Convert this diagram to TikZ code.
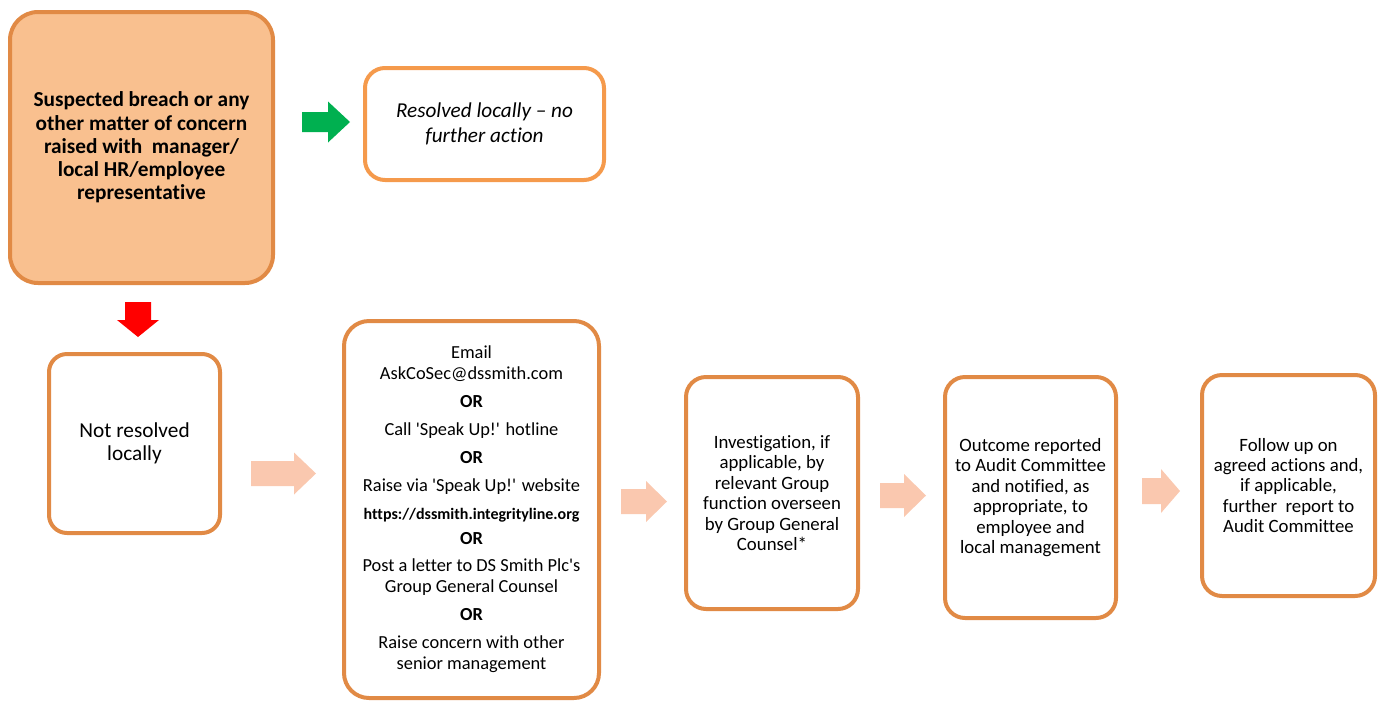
\documentclass[tikz,border=0pt]{standalone}
\usepackage{fontspec}
\setmainfont{Carlito}[Ligatures={TeX,NoCommon},Contextuals=NoAlternate]
\definecolor{bord}{HTML}{E18A45}
\definecolor{bordlight}{HTML}{F59A4C}
\definecolor{fillor}{HTML}{F9C08F}
\definecolor{pale}{HTML}{FAC8AF}
\definecolor{grn}{HTML}{00B050}
\definecolor{rd}{HTML}{FF0000}
\newcommand{\sq}{\textquotesingle}
\newcommand{\nl}{\kern0pt }
\tikzset{
  box/.style={draw=bord, line width=4pt, rounded corners=20pt, align=center, inner sep=0pt, text=black},
  pics/barrow/.style n args={5}{code={
    \fill[#5] (0,{-#2/2}) -- ({#1-#4},{-#2/2}) -- ({#1-#4},{-#3/2}) -- (#1,0)
      -- ({#1-#4},{#3/2}) -- ({#1-#4},{#2/2}) -- (0,{#2/2}) -- cycle;}}
}
\begin{document}
\begin{tikzpicture}[x=1pt,y=-1pt]
\useasboundingbox (0,0) rectangle (1383,702);
% boxes
\node[box, fill=fillor, rounded corners=28pt, minimum width=263pt, minimum height=271pt,
  font=\fontsize{21.3}{23.3}\selectfont\bfseries] (start) at (141.5,147.5)
  {Suspected breach or any\\other matter of concern\\raised with~ manager/\\local HR/employee\\representat\nl ive};
\node[box, draw=bordlight, minimum width=239pt, minimum height=112pt,
  font=\fontsize{21.2}{25}\selectfont\itshape] (res) at (484.5,124)
  {Resolved locally -- no\\further act\nl ion};
\node[box, minimum width=171pt, minimum height=179pt, rounded corners=18pt,
  font=\fontsize{21.3}{23}\selectfont] (nr) at (134.5,443.5)
  {Not resolved\\locally};
\node[box, minimum width=255pt, minimum height=377pt, rounded corners=25pt,
  font=\fontsize{18.4}{21}\selectfont] (em) at (471.5,509.5)
  {Email\\AskCoSec@dssmith.com\\[7pt]
   \textbf{OR}\\[7pt]
   Call \sq Speak Up!\sq{} hotline\\[7pt]
   \textbf{OR}\\[7pt]
   Raise via \sq Speak Up!\sq{} website\\[7pt]
   {\fontsize{16}{15}\selectfont\bfseries https://dssmith.integrityline.org}\\[4pt]
   \textbf{OR}\\[6pt]
   Post a letter to DS Smith Plc\sq s\\Group General Counsel\\[7pt]
   \textbf{OR}\\[7pt]
   Raise concern with other\\senior management};
\node[box, minimum width=172pt, minimum height=232pt,
  font=\fontsize{18.8}{20.4}\selectfont] (inv) at (772,493)
  {Investigat\nl ion, if\\applicable, by\\relevant Group\\funct\nl ion overseen\\by Group General\\Counsel*};
\node[box, minimum width=171pt, minimum height=241pt,
  font=\fontsize{18.8}{20.4}\selectfont] (out) at (1030.5,497.5)
  {Outcome reported\\to Audit Committee\\and notified, as\\appropriate, to\\employee and\\local management};
\node[box, minimum width=173pt, minimum height=221pt,
  font=\fontsize{18.8}{20.4}\selectfont] (fol) at (1288.5,485.5)
  {Follow up on\\agreed act\nl ions and,\\if applicable,\\further~ report to\\Audit Committee};
% block arrows
\pic at (302,122) {barrow={48}{20}{41}{22}{grn}};
\pic[rotate=-90] at (138,302) {barrow={35}{26}{42}{17}{rd}};
\pic at (251,473.5) {barrow={65}{25}{42}{22}{pale}};
\pic at (621,501.5) {barrow={46}{25}{41}{21}{pale}};
\pic at (880,495.5) {barrow={46}{25}{43}{22}{pale}};
\pic at (1142,491) {barrow={38}{26}{44}{19}{pale}};
\end{tikzpicture}
\end{document}
